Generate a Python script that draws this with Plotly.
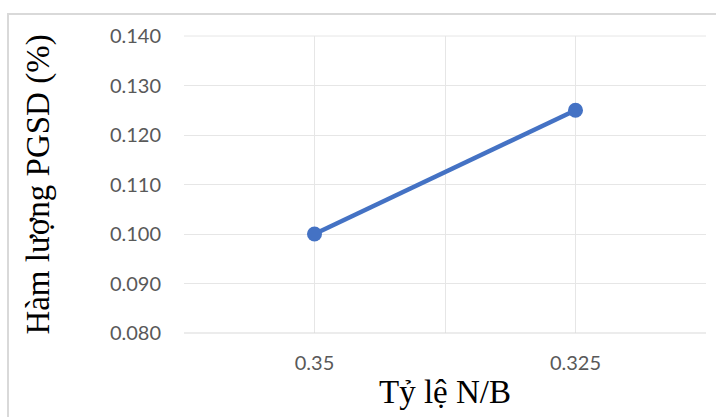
import plotly.graph_objects as go

categories = ["0.35", "0.325"]
values = [0.100, 0.125]
y_ticks = [0.080, 0.090, 0.100, 0.110, 0.120, 0.130, 0.140]

x_idx = list(range(len(categories)))

fig = go.Figure()
fig.add_trace(go.Scatter(
    x=x_idx, y=values, mode="lines+markers",
    line=dict(color="#4472C4", width=4.5),
    marker=dict(color="#4472C4", size=15),
    showlegend=False,
))

grid_vals = [-0.5, 0, 0.5, 1, 1.5]
grid_text = ["", categories[0], "", categories[1], ""]

tick_font = dict(family="Lato, Liberation Sans", size=20, color="#595959")

fig.update_layout(
    width=716, height=417,
    margin=dict(l=184, r=10, t=36, b=84),
    paper_bgcolor="white", plot_bgcolor="white",
    xaxis=dict(
        range=[-0.5, 1.5], tickmode="array", tickvals=grid_vals, ticktext=grid_text,
        showgrid=True, gridcolor="#e6e6e6", gridwidth=1,
        showline=False, zeroline=False, ticks="",
        tickfont=tick_font,
        ticklabelstandoff=16,
        title=dict(text="Tỷ lệ N/B", font=dict(family="Liberation Serif", size=33, color="black"), standoff=6),
    ),
    yaxis=dict(
        range=[0.080, 0.140], tickmode="array", tickvals=y_ticks,
        ticktext=[f"{v:.3f}" for v in y_ticks],
        showgrid=True, gridcolor="#e6e6e6", gridwidth=1,
        showline=False, zeroline=False, ticks="",
        tickfont=tick_font,
        ticklabelstandoff=22,
        title=dict(text="Hàm lượng PGSD (%)", font=dict(family="Liberation Serif", size=33, color="black"), standoff=50),
    ),
    shapes=[
        dict(type="rect", xref="paper", yref="paper",
             x0=(8 - 184) / 522, x1=1.5, y0=-1, y1=(333 - 14) / 297,
             line=dict(color="#d9d9d9", width=2), fillcolor="rgba(0,0,0,0)", layer="below"),
        dict(type="line", xref="paper", yref="paper",
             x0=0, x1=1, y0=1, y1=1, line=dict(color="#e6e6e6", width=1)),
        dict(type="line", xref="paper", yref="paper",
             x0=0, x1=1, y0=0, y1=0, line=dict(color="#d9d9d9", width=1)),
    ],
)

fig.write_html("out.html")
